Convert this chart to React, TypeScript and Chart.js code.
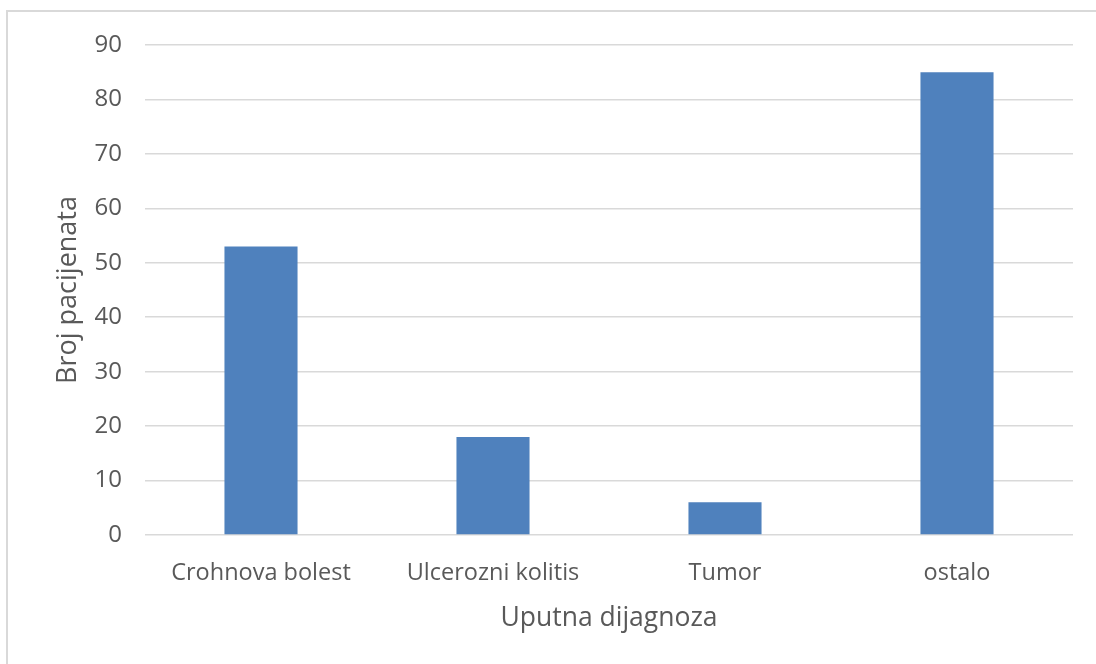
import React, { useEffect, useRef } from "react";
import { Chart, registerables } from "chart.js";

Chart.register(...registerables);

const categories = ["Crohnova bolest", "Ulcerozni kolitis", "Tumor", "ostalo"];
const patientCounts = [53, 18, 6, 85];
const yTitle = "Broj pacijenata";
const xTitle = "Uputna dijagnoza";

const FONT = "'Open Sans', sans-serif";
const TEXT = "#595959";

export default function App() {
  const ref = useRef<HTMLCanvasElement | null>(null);

  useEffect(() => {
    if (!ref.current) return;
    const chart = new Chart(ref.current, {
      type: "bar",
      data: {
        labels: categories,
        datasets: [
          {
            data: patientCounts,
            backgroundColor: "#4F81BD",
            borderWidth: 0,
            barPercentage: 0.315,
            categoryPercentage: 1,
          },
        ],
      },
      options: {
        responsive: false,
        animation: false,
        layout: { padding: { top: 45, right: 23, left: 0, bottom: 0 } },
        plugins: { legend: { display: false }, tooltip: { enabled: false } },
        scales: {
          x: {
            grid: { display: false, drawTicks: false },
            border: { display: false },
            ticks: { color: TEXT, font: { family: FONT, size: 23.5 }, padding: 24, maxRotation: 0 },
            title: {
              display: true,
              text: xTitle,
              color: TEXT,
              font: { family: FONT, size: 26.5 },
              padding: { top: 0, bottom: 30 },
            },
            afterFit: (s: any) => {
              s.height = 664 - 535;
            },
          },
          y: {
            min: 0,
            max: 90,
            ticks: { stepSize: 10, color: TEXT, font: { family: FONT, size: 24 }, padding: 23 },
            grid: { color: "#D9D9D9", lineWidth: 1.5, drawTicks: false },
            border: { display: false },
            title: {
              display: true,
              text: yTitle,
              color: TEXT,
              font: { family: FONT, size: 27 },
              padding: { top: 52, bottom: 0 },
            },
            afterFit: (s: any) => {
              s.width = 145;
            },
          },
        },
      },
    });
    return () => chart.destroy();
  }, []);

  return (
    <div style={{ position: "fixed", left: 0, top: 0, width: 1096, height: 664, overflow: "hidden", background: "#fff" }}>
      <div
        style={{
          position: "absolute",
          left: 6,
          top: 10,
          width: 1200,
          height: 800,
          borderLeft: "2px solid #D9D9D9",
          borderTop: "2px solid #D9D9D9",
          boxSizing: "border-box",
        }}
      />
      <canvas ref={ref} width={1096} height={664} style={{ position: "absolute", left: 0, top: 0 }} />
    </div>
  );
}
